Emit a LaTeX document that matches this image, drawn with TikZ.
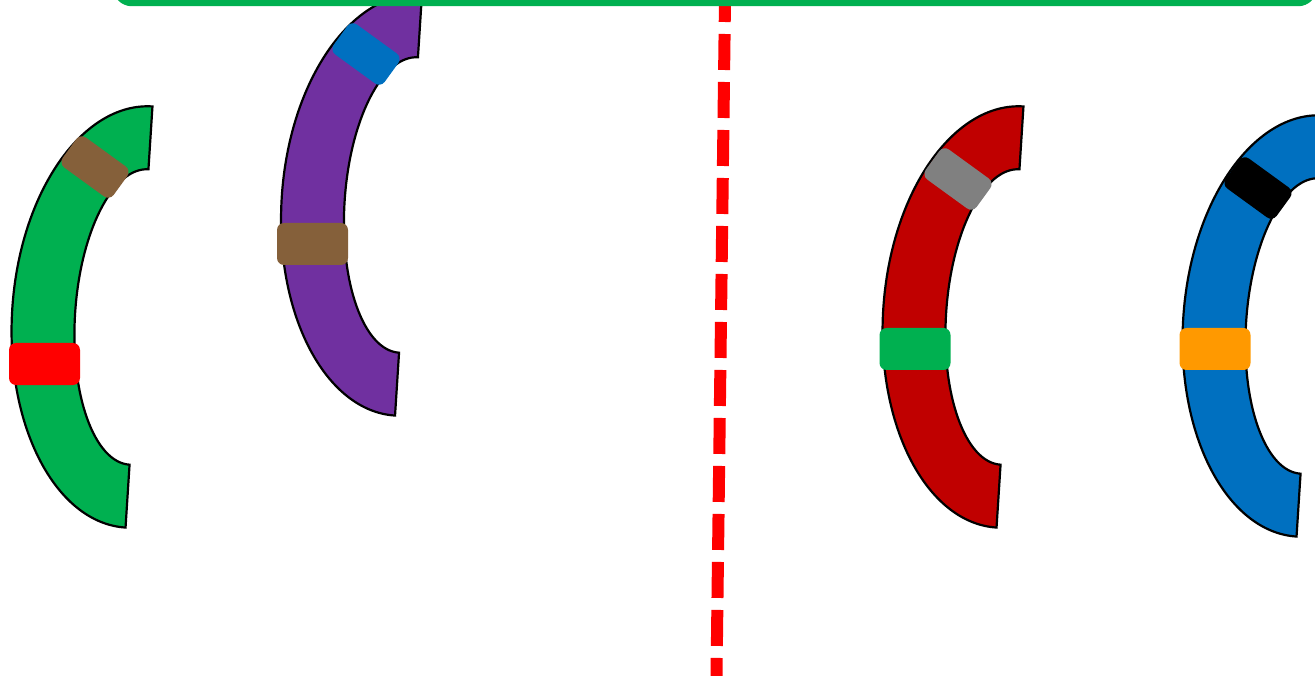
\documentclass[tikz,border=0pt]{standalone}
\usepackage{tikz}
\usepackage{xcolor}
\usetikzlibrary{positioning}

\definecolor{arcgreen}{HTML}{00B050}
\definecolor{arcpurple}{HTML}{7030A0}
\definecolor{arcred}{HTML}{C00000}
\definecolor{arcblue}{HTML}{0070C0}
\definecolor{bandbrown}{HTML}{85603A}
\definecolor{bandgray}{HTML}{808080}
\definecolor{bandorange}{HTML}{FF9900}

\tikzset{
  arcline/.style={draw=black, line width=2.2pt},
  pics/carc/.style={code={
    \path[arcline, fill=#1] (0,211) arc[start angle=90, end angle=270, x radius=127, y radius=211]
      -- (0,-148) arc[start angle=270, end angle=90, x radius=64, y radius=148] -- cycle;
  }},
  band/.style={rectangle, rounded corners=7pt, minimum width=71pt, minimum height=42pt, inner sep=0pt},
  tiltband/.style={band, minimum width=63pt, minimum height=37pt, rotate=-36},
  frame/.style={draw=arcgreen, line width=6.5pt, rounded corners=16pt},
  cutline/.style={draw=red, line width=12pt, dash pattern=on 36pt off 12pt, dash phase=14pt}
}

\begin{document}
\begin{tikzpicture}[x=1pt, y=1pt]

\useasboundingbox (0,0) rectangle (1315,-676);
\clip (0,0) rectangle (1315,-676);

% left side
\pic[rotate=-3.66] at (139,-317) {carc=arcgreen};
\pic[rotate=-3.66] at (408.5,-205) {carc=arcpurple};

\node[tiltband, fill=bandbrown] (g1) at (95,-167) {};
\node[band, fill=red] (g2) at (44.5,-364) {};
\node[tiltband, fill=arcblue] (p1) at (366,-54) {};
\node[band, fill=bandbrown] (p2) at (312.5,-244) {};

% right side
\pic[rotate=-3.66] at (1010,-317) {carc=arcred};
\pic[rotate=-3.66] at (1310,-326) {carc=arcblue};

\node[tiltband, fill=bandgray] (r1) at (958,-179) {};
\node[band, fill=arcgreen] (r2) at (915,-349) {};
\node[tiltband, fill=black] (b1) at (1258,-188) {};
\node[band, fill=bandorange] (b2) at (1215,-349) {};

% dividing line
\coordinate (cutTop) at (725,0);
\coordinate (cutBot) at (716.5,-676);
\draw[cutline] (cutTop) -- (cutBot);

\draw[frame] (116,-3) rectangle (1314,60);

\end{tikzpicture}
\end{document}
